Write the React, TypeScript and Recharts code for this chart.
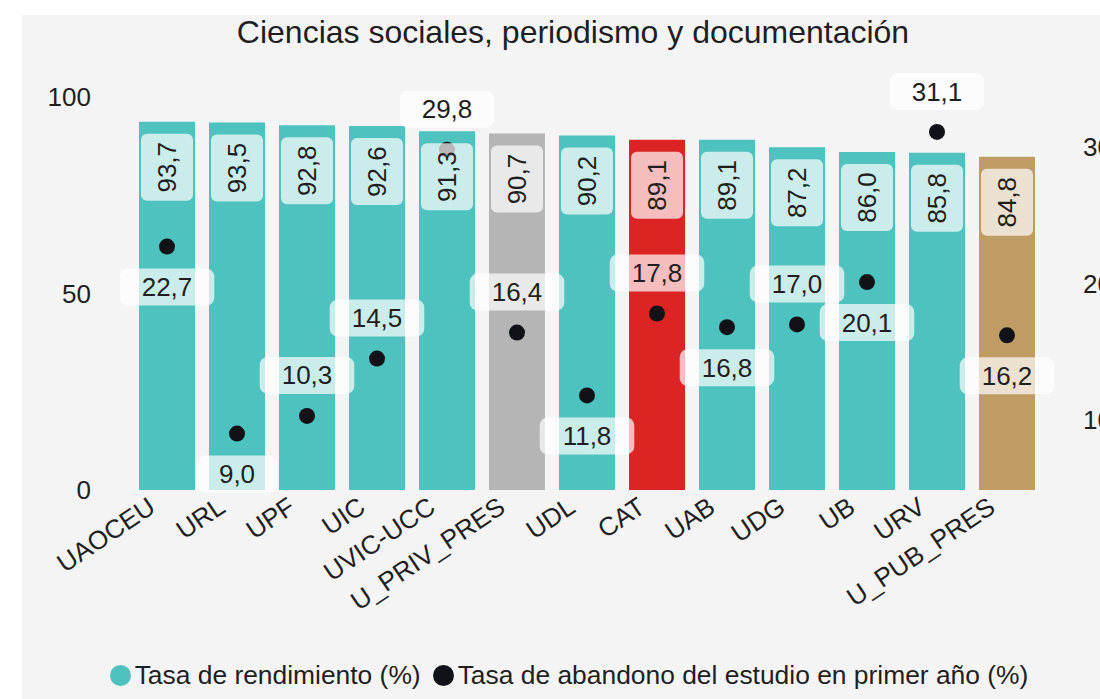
import React from 'react';
import { ComposedChart, Bar, Cell, Scatter, XAxis, YAxis, Legend } from 'recharts';

const categories = ['UAOCEU', 'URL', 'UPF', 'UIC', 'UVIC-UCC', 'U_PRIV_PRES', 'UDL', 'CAT', 'UAB', 'UDG', 'UB', 'URV', 'U_PUB_PRES'];
const rendimiento = [93.7, 93.5, 92.8, 92.6, 91.3, 90.7, 90.2, 89.1, 89.1, 87.2, 86.0, 85.8, 84.8];
const abandono = [22.7, 9.0, 10.3, 14.5, 29.8, 16.4, 11.8, 17.8, 16.8, 17.0, 20.1, 31.1, 16.2];
const abandonoLabelSide = ['below', 'below', 'above', 'above', 'above', 'above', 'below', 'above', 'below', 'above', 'below', 'above', 'below'];
const leftTicks = [0, 50, 100];
const rightTicks = [10, 20, 30];
const rightDomain = [4.87, 33.66];
const seriesNames = ['Tasa de rendimiento (%)', 'Tasa de abandono del estudio en primer año (%)'];
const title = 'Ciencias sociales, periodismo y documentación';

const FONT = '"Liberation Sans", Arial, Helvetica, sans-serif';
const TEXT = '#1f1f1f';
const baseColor = '#4EC2BE';
const dotColor = '#111217';
const highlightColors: Record<string, string> = {
  CAT: '#DC2424',
  U_PRIV_PRES: '#B5B5B5',
  U_PUB_PRES: '#BF9C63',
};

const data = categories.map((c, i) => ({
  cat: c,
  rend: rendimiento[i],
  aband: abandono[i],
  side: abandonoLabelSide[i],
}));

const fmt = (v: number) => v.toFixed(1).replace('.', ',');
const textW = (s: string, size: number) =>
  Array.from(s).reduce((w, ch) => w + (ch === ',' ? 0.278 : 0.556) * size, 0);

const DotShape = (props: any) => {
  const { cx, cy, payload } = props;
  if (cx == null || cy == null) return null;
  const label = fmt(payload.aband);
  const w = textW(label, 26) + 44;
  const h = 37;
  const boxY = payload.side === 'above' ? cy - 22 - h : cy + 22;
  return (
    <g>
      <circle cx={cx} cy={cy} r={8} fill={dotColor} />
      <rect x={cx - w / 2} y={boxY} width={w} height={h} rx={8} ry={8} fill="rgba(255,255,255,0.7)" />
      <text x={cx} y={boxY + h / 2} dy="0.35em" textAnchor="middle" fontSize={26} fill={TEXT} fontFamily={FONT}>
        {label}
      </text>
    </g>
  );
};

const BarLabelShape = (props: any) => {
  const { cx, cy, payload } = props;
  if (cx == null || cy == null) return null;
  const w = 52;
  const h = 67;
  const top = cy + 12;
  const cyc = top + h / 2;
  return (
    <g>
      <rect x={cx - w / 2} y={top} width={w} height={h} rx={6} ry={6} fill="rgba(255,255,255,0.7)" />
      <text
        x={cx}
        y={cyc}
        dy="0.35em"
        textAnchor="middle"
        transform={`rotate(-90, ${cx}, ${cyc})`}
        fontSize={26}
        fill={TEXT}
        fontFamily={FONT}
      >
        {fmt(payload.rend)}
      </text>
    </g>
  );
};

const LeftTick = ({ x, y, payload }: any) => (
  <text x={x - 41} y={y} dy="0.35em" textAnchor="end" fontSize={26} fill={TEXT} fontFamily={FONT}>
    {payload.value}
  </text>
);

const RightTick = ({ x, y, payload }: any) => (
  <text x={x + 41} y={y} dy="0.35em" textAnchor="start" fontSize={26} fill={TEXT} fontFamily={FONT}>
    {payload.value}
  </text>
);

const XTick = ({ x, y, payload }: any) => {
  const ax = x - 10;
  const ay = y + 21;
  return (
    <text
      x={ax}
      y={ay}
      textAnchor="end"
      transform={`rotate(-34, ${ax}, ${ay})`}
      fontSize={26}
      fill={TEXT}
      fontFamily={FONT}
    >
      {payload.value}
    </text>
  );
};

const legendColors = [baseColor, dotColor];

const LegendContent = () => (
  <div
    style={{
      display: 'flex',
      justifyContent: 'center',
      alignItems: 'center',
      fontFamily: FONT,
      fontSize: 26.4,
      color: TEXT,
      height: 30,
      paddingLeft: 38,
      whiteSpace: 'nowrap',
    }}
  >
    {seriesNames.map((name, i) => (
      <div key={name} style={{ display: 'flex', alignItems: 'center', marginRight: i === 0 ? 12 : 0 }}>
        <span
          style={{
            display: 'inline-block',
            width: 21,
            height: 21,
            borderRadius: '50%',
            background: legendColors[i],
            marginRight: 4,
          }}
        />
        <span>{name}</span>
      </div>
    ))}
  </div>
);

export default function App() {
  return (
    <div style={{ position: 'fixed', left: 0, top: 0, width: 1100, height: 699, background: '#ffffff', overflow: 'hidden' }}>
      <div style={{ position: 'absolute', left: 22, top: 15, right: 0, bottom: 0, background: '#f4f4f4' }} />
      <div style={{ position: 'absolute', left: 0, top: 0 }}>
        <ComposedChart width={1100} height={699} data={data} margin={{ top: 97, right: 0, bottom: 0, left: 0 }}>
          <XAxis
            dataKey="cat"
            type="category"
            height={209}
            axisLine={false}
            tickLine={false}
            tickSize={0}
            tickMargin={0}
            interval={0}
            tick={<XTick />}
          />
          <YAxis
            yAxisId="left"
            orientation="left"
            width={132}
            domain={[0, 100]}
            ticks={leftTicks}
            axisLine={false}
            tickLine={false}
            tickSize={0}
            tickMargin={0}
            tick={<LeftTick />}
          />
          <YAxis
            yAxisId="right"
            orientation="right"
            width={58}
            domain={rightDomain}
            ticks={rightTicks}
            axisLine={false}
            tickLine={false}
            tickSize={0}
            tickMargin={0}
            tick={<RightTick />}
          />
          <Bar dataKey="rend" yAxisId="left" isAnimationActive={false} name={seriesNames[0]}>
            {data.map((d) => (
              <Cell key={d.cat} fill={highlightColors[d.cat] || baseColor} />
            ))}
          </Bar>
          <Scatter dataKey="aband" yAxisId="right" isAnimationActive={false} shape={DotShape} name={seriesNames[1]} />
          <Scatter dataKey="rend" yAxisId="left" isAnimationActive={false} shape={BarLabelShape} legendType="none" />
          <Legend
            layout="horizontal"
            verticalAlign="middle"
            align="center"
            wrapperStyle={{ top: 660, left: 0, width: 1100 }}
            content={<LegendContent />}
          />
        </ComposedChart>
      </div>
      <svg style={{ position: 'absolute', left: 0, top: 0, pointerEvents: 'none' }} width={1100} height={699}>
        <text x={573} y={43} textAnchor="middle" fontSize={32} fill={TEXT} fontFamily={FONT}>
          {title}
        </text>
      </svg>
    </div>
  );
}
